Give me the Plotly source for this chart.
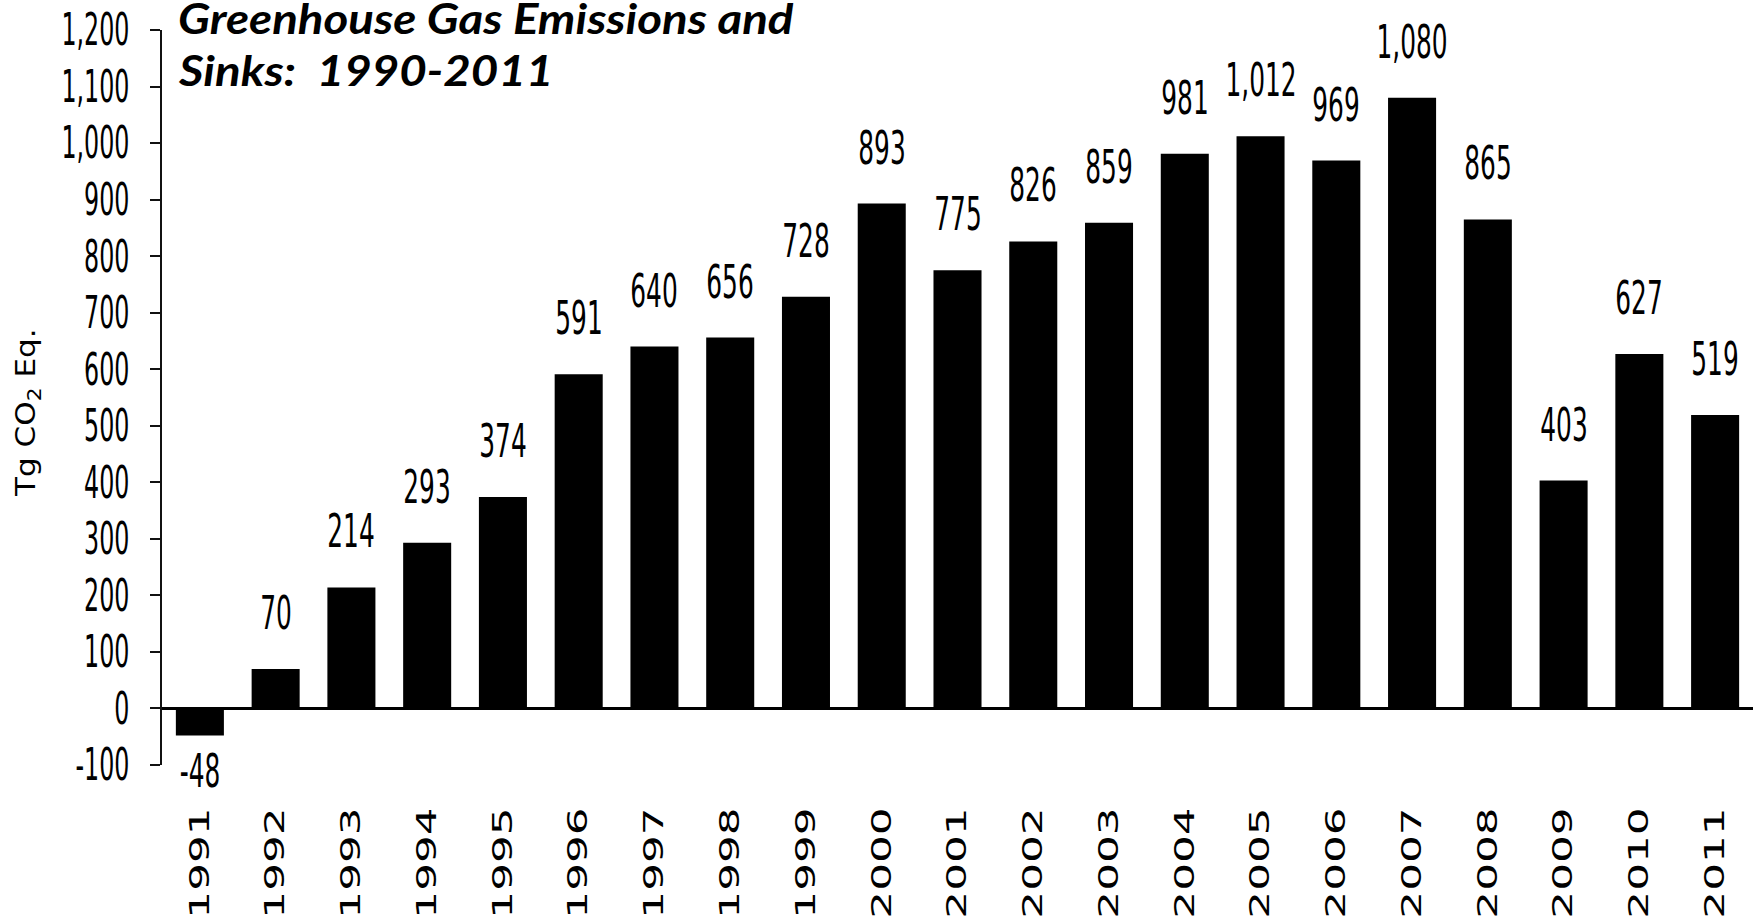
import plotly.graph_objects as go

# Net emissions and sinks by year (Tg CO2 Eq.)
years = ["1991", "1992", "1993", "1994", "1995", "1996", "1997", "1998", "1999", "2000",
         "2001", "2002", "2003", "2004", "2005", "2006", "2007", "2008", "2009", "2010", "2011"]
values = [-48, 70, 214, 293, 374, 591, 640, 656, 728, 893,
          775, 826, 859, 981, 1012, 969, 1080, 865, 403, 627, 519]

y_tick_values = [-100, 0, 100, 200, 300, 400, 500, 600, 700, 800, 900, 1000, 1100, 1200]
y_tick_labels = ["-100", "0", "100", "200", "300", "400", "500", "600", "700",
                 "800", "900", "1,000", "1,100", "1,200"]

title_lines = ["Greenhouse Gas Emissions and", "Sinks:\u00a0 1990-2011"]
y_title = "Tg CO<sub>2</sub> Eq."

NUM_FONT = "DejaVu Sans, Verdana, sans-serif"
TITLE_FONT = "Lato, Open Sans, sans-serif"

W, H = 1760, 919
M_L, M_R, M_T, M_B = 162, 7, 30, 154
plot_w = W - M_L - M_R
plot_h = H - M_T - M_B

fig = go.Figure()
fig.add_trace(go.Bar(
    x=years,
    y=values,
    marker=dict(color="#000000", line=dict(width=0)),
    hoverinfo="x+y",
))

# value labels above (or below, for negatives) each bar
for i, v in enumerate(values):
    fig.add_annotation(
        x=i, y=v, xref="x", yref="y",
        text=f"{v:,}",
        showarrow=False,
        width=76,
        yanchor="bottom" if v >= 0 else "top",
        yshift=27 if v >= 0 else -6,
        font=dict(family=NUM_FONT, size=46, color="#000000"),
    )

# two-line chart title in the upper-left corner of the plot
for i, line in enumerate(title_lines):
    fig.add_annotation(
        x=(176 - M_L) / plot_w, xref="paper", xanchor="left", align="left",
        y=1 + (M_T - (18 + 52 * i)) / plot_h, yref="paper", yanchor="middle",
        text=line,
        showarrow=False,
        font=dict(family=TITLE_FONT, size=42, color="#000000",
                  weight="bold", style="italic"),
    )

# vertical axis title
fig.add_annotation(
    x=(28 - M_L) / plot_w, xref="paper", xanchor="center",
    y=(H - M_B - 413) / plot_h, yref="paper", yanchor="middle",
    text=y_title, textangle=-90, showarrow=False,
    font=dict(family=NUM_FONT, size=27, color="#000000"),
)

fig.update_layout(
    width=W, height=H,
    margin=dict(l=M_L, r=M_R, t=M_T, b=M_B, autoexpand=False),
    paper_bgcolor="#ffffff",
    plot_bgcolor="#ffffff",
    bargap=0.366,
    showlegend=False,
    xaxis=dict(
        type="category",
        range=[-0.5, len(years) - 0.5],
        automargin=False,
        showgrid=False,
        showline=False,
        zeroline=False,
        ticks="",
        tickangle=-90,
        ticklabelstandoff=36,
        tickfont=dict(family=NUM_FONT, size=27, color="#000000"),
    ),
    yaxis=dict(
        range=[-100, 1200],
        automargin=False,
        tickvals=y_tick_values,
        ticktext=y_tick_labels,
        showgrid=False,
        showline=True,
        linecolor="#111111",
        linewidth=1.5,
        ticks="outside",
        ticklen=10,
        tickwidth=1.5,
        tickcolor="#111111",
        ticklabelstandoff=12,
        zeroline=True,
        zerolinecolor="#000000",
        zerolinewidth=3,
        tickfont=dict(family=NUM_FONT, size=44, color="#000000"),
    ),
)

# Condensed numerals and wide-set year labels: adjust glyph widths after drawing
post_js = """
var gd = document.getElementById('{plot_id}');
function fit(nodes, f) {
  nodes.forEach(function (t) {
    var w = t.getComputedTextLength();
    if (w > 0) {
      t.setAttribute('textLength', (w * f).toFixed(2));
      t.setAttribute('lengthAdjust', 'spacingAndGlyphs');
    }
  });
}
fit(gd.querySelectorAll('.ytick text'), 0.54);
fit(gd.querySelectorAll('.xtick text'), 1.62);
gd.querySelectorAll('.annotation-text').forEach(function (t) {
  var s = t.textContent;
  if (/^-?[0-9,]+$/.test(s)) { fit([t], 0.54); }
  else if (s.indexOf('Tg') === 0) { fit([t], 1.15); }
  else { fit([t], 1.13); }
});
"""

fig.write_html("out.html", post_script=post_js)
